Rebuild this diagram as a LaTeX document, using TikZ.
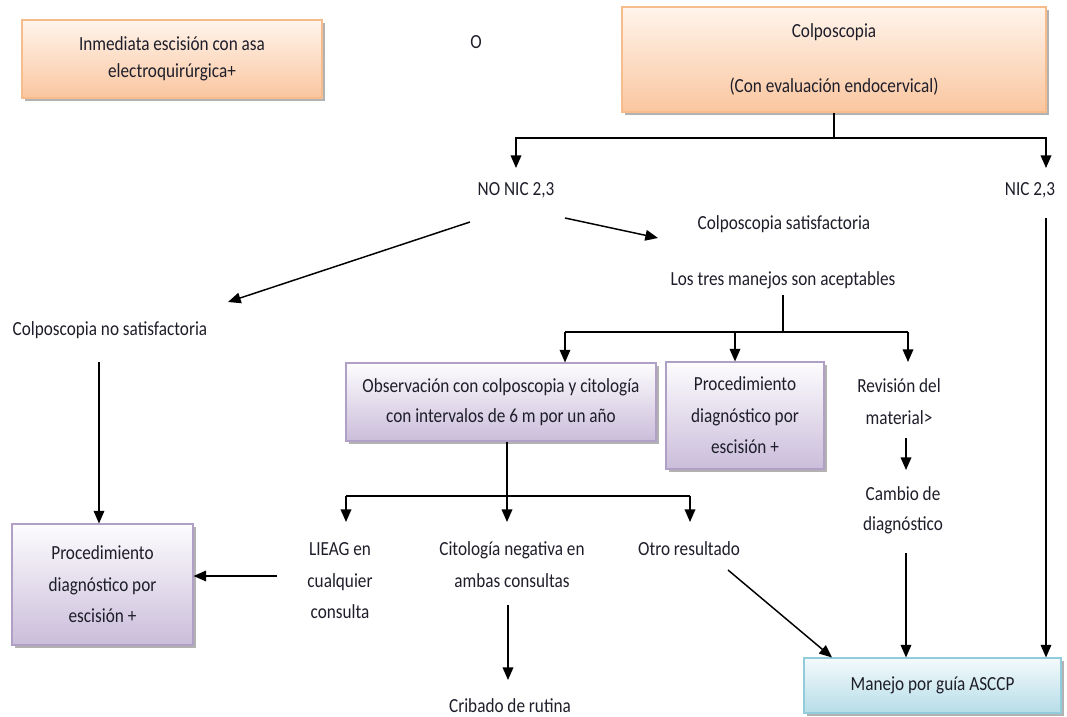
\documentclass[tikz,border=0pt]{standalone}
\usepackage{fontspec}
\setmainfont{Carlito}[FakeStretch=0.86]
\usetikzlibrary{arrows.meta,shadows}
\definecolor{orTop}{HTML}{FFF4EC}
\definecolor{orBot}{HTML}{FAC69F}
\definecolor{orLine}{HTML}{F7BC8C}
\definecolor{puTop}{HTML}{FDFCFE}
\definecolor{puBot}{HTML}{CABDDA}
\definecolor{puLine}{HTML}{B1A0C6}
\definecolor{blTop}{HTML}{F4FAFC}
\definecolor{blBot}{HTML}{B6DDE8}
\definecolor{blLine}{HTML}{92CCDC}
\definecolor{ink}{HTML}{1E1E2A}
\newcommand\diagfont{\fontsize{15}{23.6}\selectfont}
\begin{document}
\begin{tikzpicture}[x=0.75pt,y=-0.75pt,
  box/.style={rectangle, draw, line width=0.8pt, align=center, inner sep=2pt,
    font=\diagfont, text=ink,
    drop shadow={shadow xshift=2pt, shadow yshift=-2.2pt, fill=black!55, opacity=.55}},
  obox/.style={box, draw=orLine, top color=orTop, bottom color=orBot},
  pbox/.style={box, draw=puLine, top color=puTop, bottom color=puBot},
  bbox/.style={box, draw=blLine, top color=blTop, bottom color=blBot},
  lbl/.style={inner sep=0pt, align=center, font=\diagfont, text=ink},
  link/.style={line width=1.1pt, black},
  arr/.style={link, -{Triangle[length=9.5pt,width=8pt]}}]
\useasboundingbox (0,0) rectangle (1067,717);

% --- top row ---------------------------------------------------------
\node[obox, minimum width=225pt, minimum height=58.5pt,
      font=\fontsize{15}{20}\selectfont] (inme) at (172,59)
  {Inmediata escisión con asa\\electroquirúrgica+};
\node[lbl] (o) at (476,42) {O};
\node[obox, minimum width=318pt, minimum height=78.75pt] (colpo) at (834,59.5)
  {Colposcopia\\[18pt](Con evaluación endocervical)};

% --- first split -------------------------------------------------------
\node[lbl] (nonic) at (516,190) {NO NIC 2,3};
\node[lbl] (nic) at (1030,190) {NIC 2,3};
\node[lbl] (colsat) at (784,224) {Colposcopia satisfactoria};
\node[lbl] (tres) at (783,280) {Los tres manejos son aceptables};
\node[lbl] (colnosat) at (110,330) {Colposcopia no satisfactoria};

\coordinate (j1) at (834,138);
\coordinate (nonicIn) at (516,168);
\coordinate (nicIn) at (1046,168);
\coordinate (nicOut) at (1046,218);
\coordinate (nonicR) at (565,218);
\coordinate (colsatIn) at (658,238);
\coordinate (nonicL) at (470,222);
\coordinate (colnosatIn) at (228,302);

\draw[link] (colpo.south) -- (j1);
\draw[arr] (j1) -| (nonicIn);
\draw[arr] (j1) -| (nicIn);
\draw[arr] (nonicR) -- (colsatIn);
\draw[arr] (nonicL) -- (colnosatIn);

% --- three accepted managements ---------------------------------------
\node[pbox, minimum width=232.5pt, minimum height=58.5pt,
      font=\fontsize{15}{22.5}\selectfont] (obs) at (501,402)
  {Observación con colposcopia y citología\\con intervalos de 6 m por un año};
\node[pbox, minimum width=118.5pt, minimum height=80.25pt] (proc) at (745,415.5)
  {Procedimiento\\diagnóstico por\\escisión +};
\node[lbl, font=\fontsize{15}{24}\selectfont] (rev) at (899,402)
  {Revisión del\\material>};
\node[lbl, font=\fontsize{15}{22.5}\selectfont] (cambio) at (903,510)
  {Cambio de\\diagnóstico};

\coordinate (tresOut) at (783,295);
\coordinate (j2) at (783,332);
\coordinate (q1) at (565,332);
\coordinate (q2) at (735,332);
\coordinate (q3) at (908,332);
\coordinate (revIn) at (908,362);
\coordinate (revOut) at (906,438);
\coordinate (cambioIn) at (906,470);

\draw[link] (tresOut) -- (j2);
\draw[link] (q1) -- (q3);
\draw[arr] (q1) -- (q1 |- obs.north);
\draw[arr] (q2) -- (q2 |- proc.north);
\draw[arr] (q3) -- (revIn);
\draw[arr] (revOut) -- (cambioIn);

% --- observation outcomes ---------------------------------------------
\node[lbl] (lieag) at (340,581) {LIEAG en\\cualquier\\consulta};
\node[lbl, font=\fontsize{15}{24}\selectfont] (citneg) at (512,565)
  {Citología negativa en\\ambas consultas};
\node[lbl] (otro) at (689,549) {Otro resultado};
\node[lbl] (cribado) at (510,706) {Cribado de rutina};

\node[pbox, minimum width=135.75pt, minimum height=90.75pt] (leftproc) at (102.5,584.5)
  {Procedimiento\\diagnóstico por\\escisión +};
\node[bbox, minimum width=192.75pt, minimum height=41.25pt] (asccp) at (932.5,685.5)
  {Manejo por guía ASCCP};

\coordinate (j3) at (507,496);
\coordinate (r1) at (346,496);
\coordinate (r3) at (690,496);
\coordinate (lieagIn) at (346,522);
\coordinate (citnegIn) at (507,522);
\coordinate (otroIn) at (690,522);
\coordinate (lieagOut) at (277,576);
\coordinate (colnosatOut) at (99,362);
\coordinate (citnegOut) at (508,605);
\coordinate (cribadoIn) at (508,680);
\coordinate (otroOut) at (728,570);
\coordinate (cambioOut) at (906,553);
\coordinate (t1) at (832,0);

\draw[link] (obs.south -| j3) -- (j3);
\draw[link] (r1) -- (r3);
\draw[arr] (r1) -- (lieagIn);
\draw[arr] (j3) -- (citnegIn);
\draw[arr] (r3) -- (otroIn);
\draw[arr] (lieagOut) -- (lieagOut -| leftproc.east);
\draw[arr] (colnosatOut) -- (colnosatOut |- leftproc.north);
\draw[arr] (citnegOut) -- (cribadoIn);
\draw[arr] (otroOut) -- (t1 |- asccp.north);
\draw[arr] (cambioOut) -- (cambioOut |- asccp.north);
\draw[arr] (nicOut) -- (nicOut |- asccp.north);
\end{tikzpicture}
\end{document}
